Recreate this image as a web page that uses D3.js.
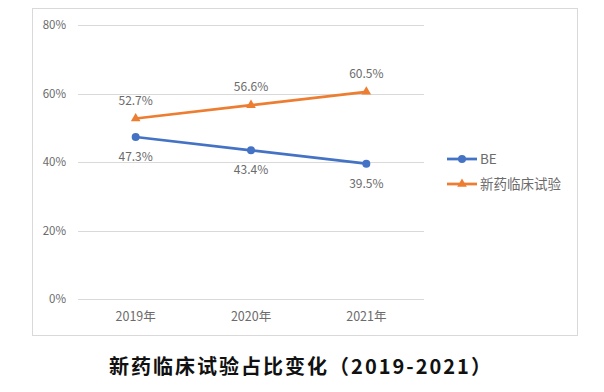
<!DOCTYPE html>
<html><head><meta charset="utf-8">
<script src="https://cdn.jsdelivr.net/npm/d3@7"></script>
<style>body{margin:0;background:#fff;}svg{display:block;}</style>
</head><body>
<svg id="c" width="604" height="392"></svg>
<script>
const categories = ["2019年","2020年","2021年"];
const seriesNames = ["BE","新药临床试验"];
const beValues = [47.3, 43.4, 39.5];
const newDrugValues = [52.7, 56.6, 60.5];
const yTicks = [0, 20, 40, 60, 80];
const title = "新药临床试验占比变化（2019-2021）";

const svg = d3.select("#c");
const colors = ["#4472C4", "#ED7D31"];
const font = "'Noto Sans CJK SC', 'Open Sans', sans-serif";
const txt = "#6b6b6b";

svg.append("rect").attr("x", 32.5).attr("y", 8.5).attr("width", 545).attr("height", 327)
  .attr("fill", "#fff").attr("stroke", "#D9D9D9").attr("stroke-width", 1);

const x = d3.scaleBand().domain(categories).range([78, 424]);
const y = d3.scaleLinear().domain([0, 80]).range([299, 25]);

svg.append("g").selectAll("line").data(yTicks).join("line")
  .attr("x1", 78).attr("x2", 424)
  .attr("y1", d => Math.round(y(d)) + 0.5).attr("y2", d => Math.round(y(d)) + 0.5)
  .attr("stroke", "#D9D9D9").attr("stroke-width", 1);

const yAxis = d3.axisLeft(y).tickValues(yTicks).tickFormat(d => d + "%").tickSize(0).tickPadding(0);
const gy = svg.append("g").attr("transform", "translate(66,0)").call(yAxis);
gy.select(".domain").remove();
gy.selectAll("text").attr("fill", txt).style("font-family", font).style("font-size", "11.5px");

const xAxis = d3.axisBottom(x).tickSize(0).tickPadding(0);
const gx = svg.append("g").attr("transform", "translate(0,312)").call(xAxis);
gx.select(".domain").remove();
gx.selectAll("text").attr("fill", txt).style("font-family", font).style("font-size", "12.5px");

const cx = d => x(d) + x.bandwidth() / 2;
const data = [beValues, newDrugValues];
const line = d3.line().x((d, i) => cx(categories[i])).y(d => y(d));

data.forEach((vals, s) => {
  svg.append("path").datum(vals).attr("d", line).attr("fill", "none")
    .attr("stroke", colors[s]).attr("stroke-width", 2.75).attr("stroke-linejoin", "round");
  const g = svg.append("g");
  if (s === 0) {
    g.selectAll("circle").data(vals).join("circle")
      .attr("cx", (d, i) => cx(categories[i])).attr("cy", d => y(d)).attr("r", 4)
      .attr("fill", colors[s]);
  } else {
    g.selectAll("path").data(vals).join("path")
      .attr("transform", (d, i) => `translate(${cx(categories[i])},${y(d)})`)
      .attr("d", d3.symbol(d3.symbolTriangle, 40)())
      .attr("fill", colors[s]);
  }
  svg.append("g").selectAll("text").data(vals).join("text")
    .attr("x", (d, i) => cx(categories[i]))
    .attr("y", d => s === 0 ? y(d) + 24 : y(d) - 14)
    .attr("text-anchor", "middle")
    .attr("fill", txt).style("font-family", font).style("font-size", "12px")
    .text(d => d.toFixed(1) + "%");
});

const leg = svg.append("g");
seriesNames.forEach((n, i) => {
  const ly = 159 + i * 25;
  leg.append("line").attr("x1", 447).attr("x2", 477).attr("y1", ly).attr("y2", ly)
    .attr("stroke", colors[i]).attr("stroke-width", 2.75);
  if (i === 0) leg.append("circle").attr("cx", 462).attr("cy", ly).attr("r", 4).attr("fill", colors[i]);
  else leg.append("path").attr("transform", `translate(462,${ly})`)
    .attr("d", d3.symbol(d3.symbolTriangle, 40)()).attr("fill", colors[i]);
  leg.append("text").attr("x", 480).attr("y", ly).attr("dy", "0.35em")
    .attr("fill", txt).style("font-family", font).style("font-size", "13.5px").text(n);
});

svg.append("text").attr("x", 301).attr("y", 374).attr("text-anchor", "middle")
  .attr("fill", "#111").style("font-family", font).style("font-weight", "bold")
  .style("font-size", "20px").style("letter-spacing", "2px").text(title);
</script>
</body></html>
